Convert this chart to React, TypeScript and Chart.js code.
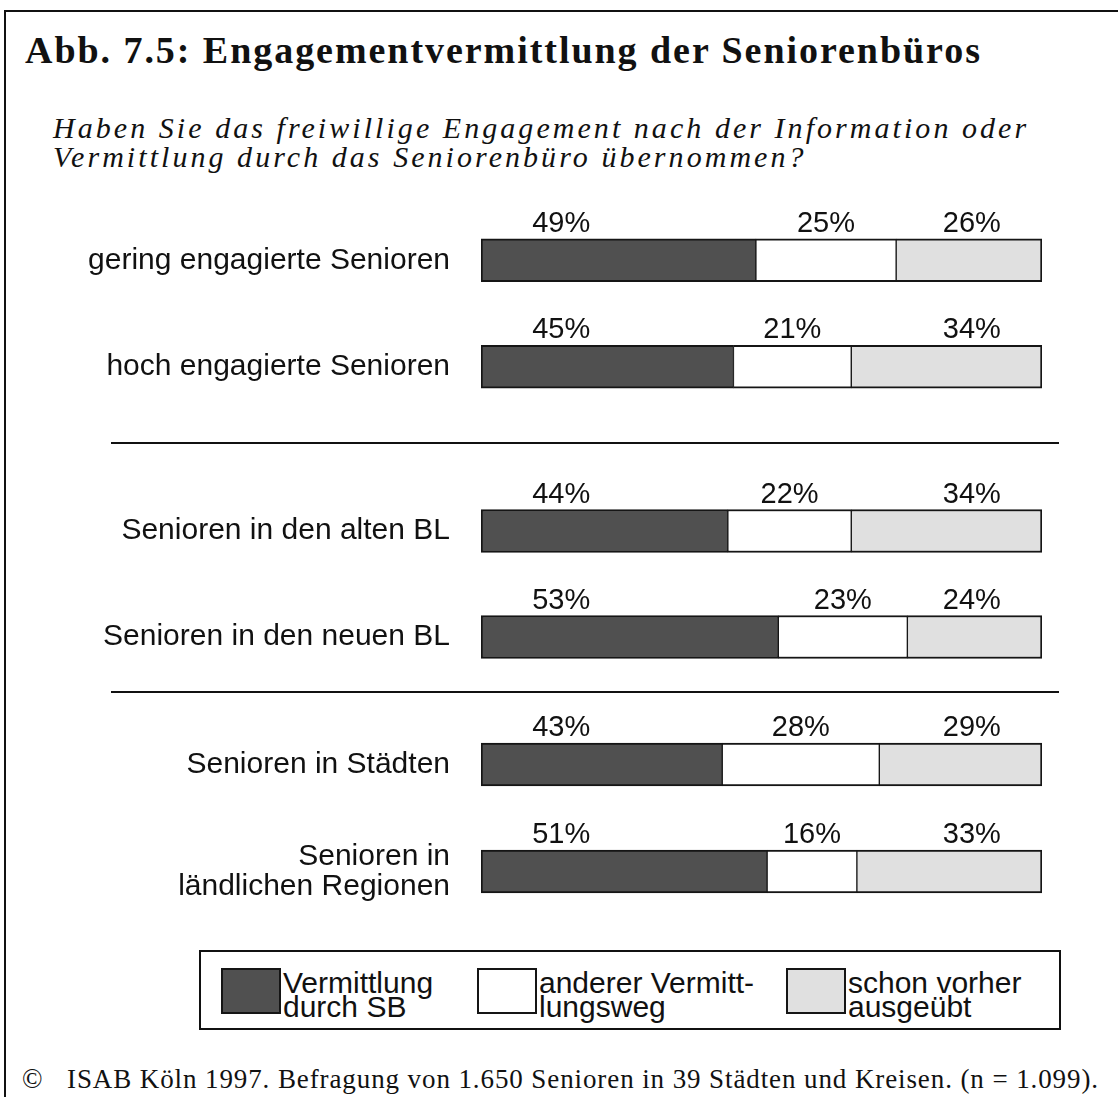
import React, { useEffect, useRef } from "react";
import { Chart, registerables } from "chart.js";

Chart.register(...registerables);

// ---- data ----
const categories: (string | string[])[] = [
  "gering engagierte Senioren",
  "hoch engagierte Senioren",
  "Senioren in den alten BL",
  "Senioren in den neuen BL",
  "Senioren in Städten",
  ["Senioren in", "ländlichen Regionen"],
];
const vermittlungSB = [49, 45, 44, 53, 43, 51];
const andererWeg = [25, 21, 22, 23, 28, 16];
const schonVorher = [26, 34, 34, 24, 29, 33];
const seriesNames = ["Vermittlung durch SB", "anderer Vermittlungsweg", "schon vorher ausgeübt"];
const legendTexts = [["Vermittlung", "durch SB"], ["anderer Vermitt-", "lungsweg"], ["schon vorher", "ausgeübt"]];
const groups = [[0, 1], [2, 3], [4, 5]];

const titleText = "Abb. 7.5: Engagementvermittlung der Seniorenbüros";
const subtitleLines = [
  "Haben Sie das freiwillige Engagement nach der Information oder",
  "Vermittlung durch das Seniorenbüro übernommen?",
];
const footnoteText = "ISAB Köln 1997. Befragung von 1.650 Senioren in 39 Städten und Kreisen. (n = 1.099).";

// ---- style / layout ----
const COLORS = ["#505050", "#ffffff", "#e0e0e0"];
const BORDER = "#151515";
const SANS = '"Liberation Sans", Arial, sans-serif';
const SERIF = '"Liberation Serif", "Times New Roman", serif';
const GROUP_AREAS = [
  { top: 207, height: 213 },
  { top: 478, height: 212 },
  { top: 711, height: 214 },
];
const PAD_TOP = 40;
const AXIS_WIDTH = 481;
const RIGHT_PAD = 1118 - 1042;
const FIRST_LABEL_AT = 14.3;
const LAST_LABEL_AT = 87.5;

const labelPlugin = {
  id: "pctLabels",
  afterDatasetsDraw(chart: any) {
    const ctx = chart.ctx;
    const xs = chart.scales.x;
    ctx.save();
    ctx.font = `29px ${SANS}`;
    ctx.fillStyle = "#111";
    ctx.textAlign = "center";
    ctx.textBaseline = "alphabetic";
    chart.data.datasets.forEach((ds: any, di: number) => {
      const meta = chart.getDatasetMeta(di);
      meta.data.forEach((bar: any, i: number) => {
        let x: number;
        if (di === 0) x = xs.getPixelForValue(FIRST_LABEL_AT);
        else if (di === 2) x = xs.getPixelForValue(LAST_LABEL_AT);
        else x = (bar.x + bar.base) / 2;
        const y = bar.y - bar.height / 2 - 7;
        ctx.fillText(`${ds.data[i]}%`, x, y);
      });
    });
    ctx.restore();
  },
};

function GroupChart({ idx }: { idx: number }) {
  const ref = useRef<HTMLCanvasElement | null>(null);
  const area = GROUP_AREAS[idx];
  const rows = groups[idx];
  useEffect(() => {
    if (!ref.current) return;
    const borders = [
      { top: 2, bottom: 2, left: 2, right: 1 },
      { top: 2, bottom: 2, left: 1, right: 1 },
      { top: 2, bottom: 2, left: 1, right: 2 },
    ];
    const seriesData = [vermittlungSB, andererWeg, schonVorher];
    const chart = new Chart(ref.current, {
      type: "bar",
      data: {
        labels: rows.map((r) => categories[r]),
        datasets: seriesData.map((s, si) => ({
          label: seriesNames[si],
          data: rows.map((r) => s[r]),
          backgroundColor: COLORS[si],
          borderColor: BORDER,
          borderWidth: borders[si],
          borderSkipped: false,
          barThickness: 43,
        })),
      } as any,
      options: {
        indexAxis: "y",
        animation: false,
        responsive: false,
        layout: { padding: { top: PAD_TOP, bottom: 0, left: 0, right: RIGHT_PAD } },
        plugins: { legend: { display: false }, tooltip: { enabled: false }, title: { display: false } },
        scales: {
          x: { stacked: true, min: 0, max: 100, display: false },
          y: {
            stacked: true,
            grid: { display: false, drawTicks: false },
            border: { display: false },
            ticks: {
              autoSkip: false,
              color: "#111",
              padding: 31,
              font: { family: SANS, size: 30, lineHeight: 1.0 },
            },
            afterFit: (scale: any) => {
              scale.width = AXIS_WIDTH;
              scale.paddingTop = 0;
              scale.paddingBottom = 0;
            },
          },
        },
      } as any,
      plugins: [labelPlugin],
    });
    return () => chart.destroy();
  }, []);
  return (
    <canvas
      ref={ref}
      width={1118}
      height={area.height + PAD_TOP}
      style={{ position: "absolute", left: 0, top: area.top - PAD_TOP, width: 1118, height: area.height + PAD_TOP }}
    />
  );
}

export default function App() {
  const swatchLefts = [221, 477, 786];
  return (
    <div
      style={{
        position: "absolute",
        left: 0,
        top: 0,
        width: 1118,
        height: 1097,
        overflow: "hidden",
        background: "#fff",
        color: "#111",
      }}
    >
      {/* frame */}
      <div
        style={{
          position: "absolute",
          left: 4,
          top: 10,
          width: 1300,
          height: 1300,
          borderLeft: "2px solid #111",
          borderTop: "2px solid #111",
        }}
      />
      {/* title */}
      <div
        style={{
          position: "absolute",
          left: 25,
          top: 31,
          font: `bold 38px/38px ${SERIF}`,
          letterSpacing: "1.95px",
          whiteSpace: "nowrap",
        }}
      >
        {titleText}
      </div>
      {/* subtitle */}
      <div
        style={{
          position: "absolute",
          left: 53,
          top: 113,
          font: `italic 30px/29px ${SERIF}`,
          letterSpacing: "3.05px",
          whiteSpace: "nowrap",
        }}
      >
        {subtitleLines.map((l, i) => (
          <div key={i}>{l}</div>
        ))}
      </div>
      {/* separators */}
      <div style={{ position: "absolute", left: 111, top: 442, width: 948, height: 2, background: "#111" }} />
      <div style={{ position: "absolute", left: 111, top: 691, width: 948, height: 2, background: "#111" }} />
      {/* charts */}
      {groups.map((_, i) => (
        <GroupChart key={i} idx={i} />
      ))}
      {/* legend */}
      <div
        style={{
          position: "absolute",
          left: 199,
          top: 950,
          width: 862,
          height: 80,
          boxSizing: "border-box",
          border: "2px solid #111",
        }}
      />
      {legendTexts.map((lines, i) => (
        <React.Fragment key={i}>
          <div
            style={{
              position: "absolute",
              left: swatchLefts[i],
              top: 968,
              width: 60,
              height: 46,
              boxSizing: "border-box",
              border: "2px solid #151515",
              background: COLORS[i],
            }}
          />
          <div
            style={{
              position: "absolute",
              left: swatchLefts[i] + 62,
              top: 971,
              font: `30px/24px ${SANS}`,
              whiteSpace: "nowrap",
            }}
          >
            {lines.map((l, j) => (
              <div key={j}>{l}</div>
            ))}
          </div>
        </React.Fragment>
      ))}
      {/* footnote */}
      <div
        style={{
          position: "absolute",
          left: 22,
          top: 1066,
          font: `27px/27px ${SERIF}`,
          whiteSpace: "nowrap",
        }}
      >
        ©
      </div>
      <div
        style={{
          position: "absolute",
          left: 67,
          top: 1066,
          font: `27px/27px ${SERIF}`,
          letterSpacing: "0.9px",
          whiteSpace: "nowrap",
        }}
      >
        {footnoteText}
      </div>
    </div>
  );
}
